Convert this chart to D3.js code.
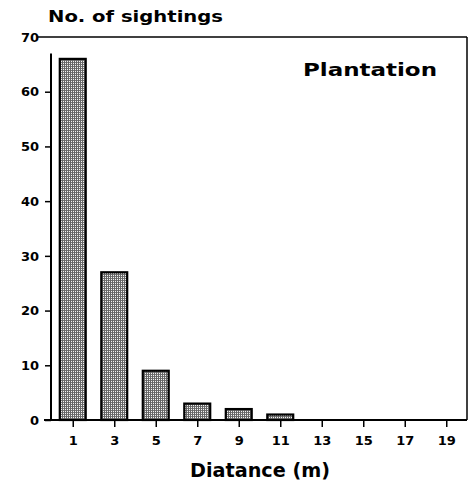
<!DOCTYPE html>
<html><head><meta charset="utf-8">
<script src="https://cdn.jsdelivr.net/npm/d3@7"></script>
<style>body{margin:0;background:#fff}svg{display:block}text{font-family:"DejaVu Sans",sans-serif;font-weight:bold;fill:#000}</style>
</head><body>
<script>
const distances = [1,3,5,7,9,11,13,15,17,19];
const sightings = [66,27,9,3,2,1,0,0,0,0];
const yTicks = [0,10,20,30,40,50,60,70];
const yTitle = "No. of sightings";
const xTitle = "Diatance (m)";
const panelLabel = "Plantation";

const W=470,H=489;
const svg=d3.select("body").append("svg").attr("width",W).attr("height",H);
const x=d3.scaleLinear().domain([0,20]).range([52,467]);
const y=d3.scaleLinear().domain([0,70]).range([420,37]);

const defs=svg.append("defs");
const pat=defs.append("pattern").attr("id","stip").attr("patternUnits","userSpaceOnUse").attr("width",2).attr("height",2);
pat.append("rect").attr("width",2).attr("height",2).attr("fill","#f4f4f4");
pat.append("rect").attr("width",2).attr("height",1).attr("fill","#777");
pat.append("rect").attr("width",1).attr("height",2).attr("fill","#666");

const bw=x(1.25)-x(0);
svg.selectAll("rect.bar").data(distances.map((d,i)=>({d,v:sightings[i]})).filter(o=>o.v>0))
 .enter().append("rect").attr("class","bar")
 .attr("x",o=>x(o.d)-bw/2).attr("width",bw)
 .attr("y",o=>y(o.v)).attr("height",o=>y(0)-y(o.v))
 .attr("fill","url(#stip)").attr("stroke","#000").attr("stroke-width",2.2);

// frame
svg.append("line").attr("x1",38).attr("x2",x(20)).attr("y1",y(70)).attr("y2",y(70)).attr("stroke","#000").attr("stroke-width",1.5);
svg.append("line").attr("x1",x(20)).attr("x2",x(20)).attr("y1",y(70)).attr("y2",y(0)).attr("stroke","#000").attr("stroke-width",1.5);

const tickFont = sel => sel.style("font-size","13px").style("font-family","DejaVu Sans, sans-serif").style("font-weight","bold");

// y axis
const ya=svg.append("g").attr("transform",`translate(${x(0)-1},0)`)
 .call(d3.axisLeft(y).tickValues(yTicks).tickSize(6).tickPadding(6));
ya.select(".domain").remove();
ya.append("line").attr("x1",0).attr("x2",0).attr("y1",y(67)).attr("y2",y(0)).attr("stroke","#000").attr("stroke-width",2);
ya.selectAll(".tick line").attr("stroke-width",1.5);
ya.selectAll(".tick text").call(tickFont);
ya.selectAll(".tick").filter(d=>d===70).select("line").remove();

// x axis
const xa=svg.append("g").attr("transform",`translate(0,${y(0)})`)
 .call(d3.axisBottom(x).tickValues(distances).tickFormat(d3.format("d")).tickSize(7).tickPadding(9));
xa.select(".domain").remove();
xa.append("line").attr("x1",44).attr("x2",x(20)).attr("y1",0).attr("y2",0).attr("stroke","#000").attr("stroke-width",2);
xa.selectAll(".tick line").attr("stroke-width",1.5);
xa.selectAll(".tick text").call(tickFont);

svg.append("text").attr("x",48).attr("y",22).style("font-size","16px")
 .attr("textLength",175).attr("lengthAdjust","spacingAndGlyphs").text(yTitle);
svg.append("text").attr("x",303).attr("y",76).style("font-size","17px")
 .attr("textLength",134).attr("lengthAdjust","spacingAndGlyphs").text(panelLabel);
svg.append("text").attr("x",190).attr("y",477).style("font-size","19px")
 .attr("textLength",140).attr("lengthAdjust","spacingAndGlyphs").text(xTitle);
</script>
</body></html>
